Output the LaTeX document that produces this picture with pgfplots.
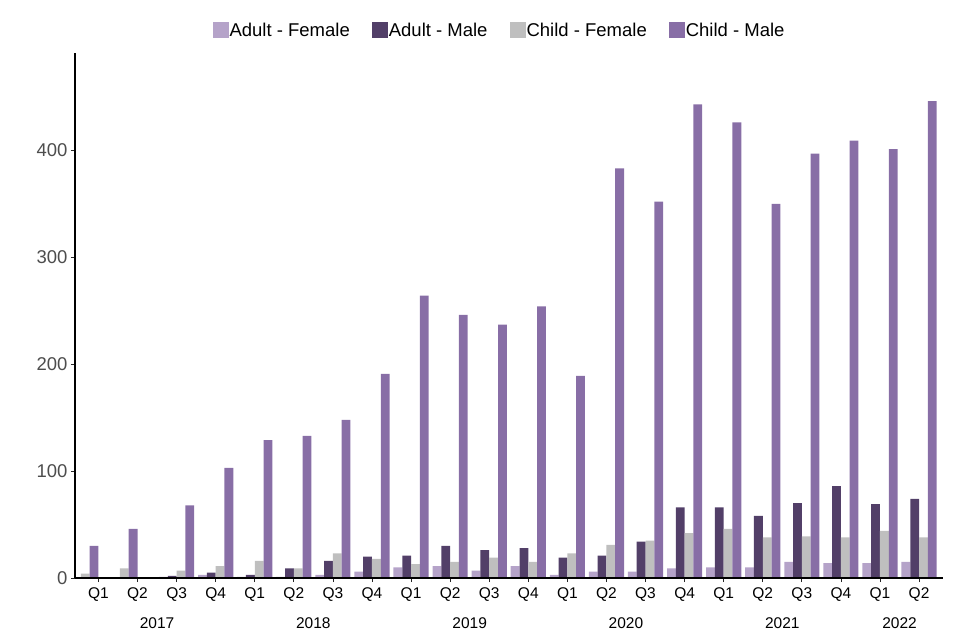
\documentclass[border=0pt]{standalone}
\usepackage{pgfplots}
\pgfplotsset{compat=1.18}
\usepackage{fontspec}
\setmainfont{Liberation Sans}
\definecolor{af}{HTML}{B5A3C9}
\definecolor{am}{HTML}{523F68}
\definecolor{cf}{HTML}{BFBFBF}
\definecolor{cm}{HTML}{886EA6}
\definecolor{tickgray}{HTML}{4D4D4D}
\begin{document}
\begin{tikzpicture}
\useasboundingbox (0,0) rectangle (960pt,640pt);
\begin{axis}[
  at={(75pt,62pt)}, anchor=south west,
  scale only axis, width=867.5pt, height=525pt,
  xmin=-0.6, xmax=21.6, ymin=0, ymax=491,
  axis lines*=left, axis on top,
  axis line style={black, line width=1.1pt},
  ybar, bar width=0.225,
  every axis plot post/.append style={legend image code/.code={\fill[##1] (0pt,-8pt) rectangle (16pt,8pt);}},
  xtick={0,...,21},
  xticklabels={Q1,Q2,Q3,Q4,Q1,Q2,Q3,Q4,Q1,Q2,Q3,Q4,Q1,Q2,Q3,Q4,Q1,Q2,Q3,Q4,Q1,Q2},
  ytick={0,100,200,300,400},
  tick align=outside, major tick length=4pt,
  tick style={black!85, line width=0.8pt},
  /pgf/number format/assume math mode=true,
  yticklabel style={font=\fontsize{18.5}{19}\selectfont, text=tickgray},
  xticklabel style={font=\fontsize{15.5}{16}\selectfont, text=black, yshift=-2pt},
  clip=false,
  legend columns=4,
  legend style={draw=none, fill=none, at={(0.4888,1.043)}, anchor=center,
    font=\fontsize{18.5}{20}\selectfont, inner sep=0pt,
    nodes={inner sep=1pt},
    /tikz/every even column/.append style={column sep=21pt}},
]
% Adult - Female (absent in 2017 Q1, Q2)
\addplot[draw=none, fill=af, bar shift=-0.3375] coordinates {
(2,1) (3,3) (4,1) (5,1) (6,3) (7,6) (8,10) (9,11) (10,7) (11,11)
(12,3) (13,6) (14,6) (15,9) (16,10) (17,10) (18,15) (19,14) (20,14) (21,15)};
\addlegendentry{Adult - Female}
% Adult - Male (absent in 2017 Q1, Q2)
\addplot[draw=none, fill=am, bar shift=-0.1125] coordinates {
(2,2) (3,5) (4,3) (5,9) (6,16) (7,20) (8,21) (9,30) (10,26) (11,28)
(12,19) (13,21) (14,34) (15,66) (16,66) (17,58) (18,70) (19,86) (20,69) (21,74)};
\addlegendentry{Adult - Male}
% Child - Female (2017 Q1, Q2 sit in the first two slots: x shifted by -0.45)
\addplot[draw=none, fill=cf, bar shift=0.1125] coordinates {
(-0.45,4) (0.55,9)
(2,7) (3,11) (4,16) (5,9) (6,23) (7,18) (8,13) (9,15) (10,19) (11,15)
(12,23) (13,31) (14,35) (15,42) (16,46) (17,38) (18,39) (19,38) (20,44) (21,38)};
\addlegendentry{Child - Female}
% Child - Male
\addplot[draw=none, fill=cm, bar shift=0.3375] coordinates {
(-0.45,30) (0.55,46)
(2,68) (3,103) (4,129) (5,133) (6,148) (7,191) (8,264) (9,246) (10,237) (11,254)
(12,189) (13,383) (14,352) (15,443) (16,426) (17,350) (18,397) (19,409) (20,401) (21,446)};
\addlegendentry{Child - Male}
\foreach \yr/\xx in {2017/1.5, 2018/5.5, 2019/9.5, 2020/13.5, 2021/17.5, 2022/20.5} {
  \edef\tmp{\noexpand\node[anchor=base, font=\noexpand\fontsize{15.5}{16}\noexpand\selectfont, yshift=-50pt] at (axis cs:\xx,0) {\yr};}
  \tmp
}
\end{axis}
\end{tikzpicture}
\end{document}
